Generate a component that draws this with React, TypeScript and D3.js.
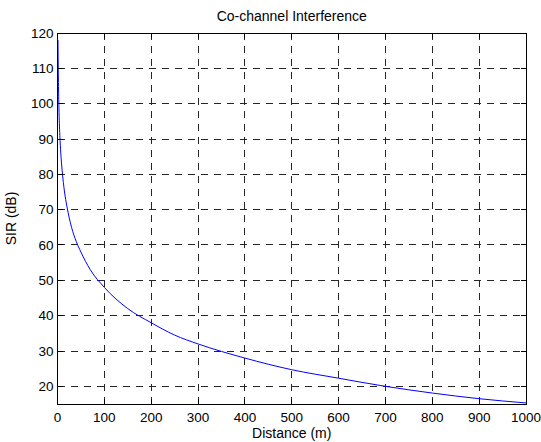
import React from "react";
import * as d3 from "d3";

// distance (m) vs SIR (dB)
const distance = [1, 2, 3, 5, 7, 10, 15, 20, 30, 40, 50, 70, 100, 150, 200, 250, 300, 400, 500, 600, 700, 800, 900, 1000];
const sir = [118, 106, 99, 91, 86, 81, 75, 71, 65, 61, 58, 53, 48, 42, 38, 34.5, 32, 28, 24.7, 22.3, 20, 18.1, 16.5, 15.3];

const xTicks = [0, 100, 200, 300, 400, 500, 600, 700, 800, 900, 1000];
const yTicks = [20, 30, 40, 50, 60, 70, 80, 90, 100, 110, 120];

const W = 541;
const H = 442;
const left = 57.5, right = 526, top = 33, bottom = 404;
const font = "Arial, 'Liberation Sans', Helvetica, sans-serif";

export default function App() {
  const x = d3.scaleLinear().domain([0, 1000]).range([left, right]);
  const y = d3.scaleLinear().domain([15, 120]).range([bottom, top]);

  const pts = distance.map((d, i) => [d, sir[i]] as [number, number]);
  const path = d3
    .line<[number, number]>()
    .x((d) => x(d[0]))
    .y((d) => y(d[1]))
    .curve(d3.curveMonotoneX)(pts);

  const tick = 5;
  const snap = (v: number) => Math.round(v - 0.5) + 0.5;

  return (
    <div style={{ position: "absolute", left: 0, top: 0 }}>
      <svg width={W} height={H} style={{ display: "block", background: "#fff" }}>
        <rect x={0} y={0} width={W} height={H} fill="#fff" />
        {/* grid */}
        <g stroke="#000" strokeWidth={1} strokeDasharray="7,6" shapeRendering="crispEdges" opacity={0.85}>
          {xTicks.slice(1, -1).map((t) => (
            <line key={"gx" + t} x1={snap(x(t))} x2={snap(x(t))} y1={top} y2={bottom} />
          ))}
          {yTicks.slice(0, -1).map((t) => (
            <line key={"gy" + t} x1={left} x2={right} y1={snap(y(t))} y2={snap(y(t))} />
          ))}
        </g>
        {/* data */}
        <clipPath id="clip">
          <rect x={left} y={top} width={right - left} height={bottom - top} />
        </clipPath>
        <path d={path ?? ""} fill="none" stroke="#0000ff" strokeWidth={1} clipPath="url(#clip)" />
        {/* box and ticks */}
        <g stroke="#000" strokeWidth={1} shapeRendering="crispEdges">
          <rect x={left} y={top} width={right - left} height={bottom - top} fill="none" />
          {xTicks.map((t) => (
            <g key={"tx" + t}>
              <line x1={snap(x(t))} x2={snap(x(t))} y1={bottom} y2={bottom - tick} />
              <line x1={snap(x(t))} x2={snap(x(t))} y1={top} y2={top + tick} />
            </g>
          ))}
          {yTicks.map((t) => (
            <g key={"ty" + t}>
              <line x1={left} x2={left + tick} y1={snap(y(t))} y2={snap(y(t))} />
              <line x1={right} x2={right - tick} y1={snap(y(t))} y2={snap(y(t))} />
            </g>
          ))}
        </g>
        {/* tick labels */}
        <g fontFamily={font} fontSize={13.5} fill="#000">
          {xTicks.map((t) => (
            <text key={"lx" + t} x={x(t)} y={422} textAnchor="middle">
              {t}
            </text>
          ))}
          {yTicks.map((t) => (
            <text key={"ly" + t} x={53.5} y={y(t)} textAnchor="end" dominantBaseline="central">
              {t}
            </text>
          ))}
        </g>
        <text x={(left + right) / 2} y={21} textAnchor="middle" fontFamily={font} fontSize={14}>
          Co-channel Interference
        </text>
        <text x={(left + right) / 2} y={438} textAnchor="middle" fontFamily={font} fontSize={14}>
          Distance (m)
        </text>
        <text
          transform={`translate(16,${(top + bottom) / 2}) rotate(-90)`}
          textAnchor="middle"
          fontFamily={font}
          fontSize={14}
        >
          SIR (dB)
        </text>
      </svg>
    </div>
  );
}
